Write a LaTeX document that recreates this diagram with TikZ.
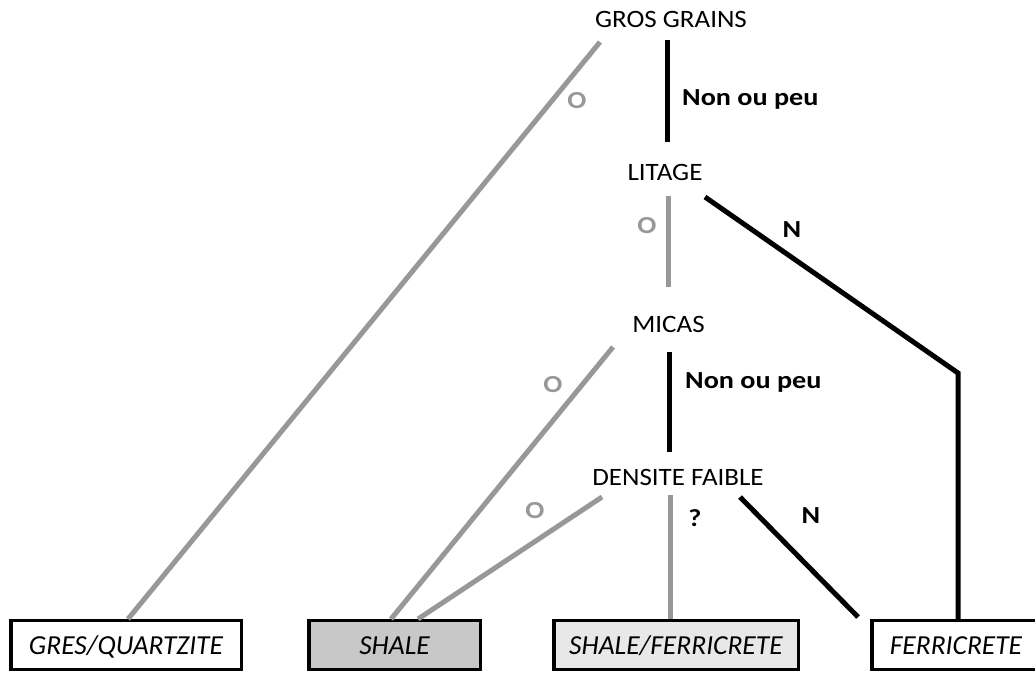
\documentclass[tikz,border=0pt]{standalone}
\usepackage{fontspec}
\setmainfont{Carlito}
\newfontfamily\qfamily{Carlito}[FakeStretch=1.08]
\newfontfamily\lfamily{Carlito}[FakeStretch=1.15]
\begin{document}
\begin{tikzpicture}[x=1pt,y=-1pt,
  q/.style={font=\qfamily\fontsize{25}{28}\selectfont, inner sep=0pt, anchor=base},
  lab/.style={font=\lfamily\bfseries\fontsize{24.5}{28}\selectfont, inner sep=0pt, anchor=base},
  glab/.style={lab, text=grayline},
  yes/.style={line width=5pt, draw=grayline},
  no/.style={line width=5pt, draw=black},
  res/.style={draw=black, line width=3.5pt, inner sep=0pt, minimum height=48.75pt,
    font=\fontsize{27.5}{30}\selectfont\itshape, text height=18pt, text depth=0pt}
]
\definecolor{grayline}{HTML}{989898}
\definecolor{shalefill}{HTML}{C8C8C8}
\definecolor{sfill}{HTML}{E8E8E8}
\clip (0,0) rectangle (1035,672);
\fill[white] (0,0) rectangle (1035,672);

% questions
\node[q] (gros) at (671,27) {GROS GRAINS};
\node[q] (litage) at (665,180) {LITAGE};
\node[q] (micas) at (668.5,332) {MICAS};
\node[q] (dens) at (678,485) {DENSITE FAIBLE};

% result boxes
\node[res, minimum width=230.5pt, fill=white] (gres) at (126,645) {GRES/QUARTZITE};
\node[res, minimum width=171.5pt, fill=shalefill] (shale) at (394.5,645) {SHALE};
\node[res, minimum width=244.5pt, fill=sfill] (sf) at (676,645) {SHALE/FERRICRETE};
\node[res, minimum width=168.5pt, fill=white] (fer) at (956,645) {FERRICRETE};

% connector end points
\coordinate (g1) at (667,40);
\coordinate (l0) at (667,142);
\coordinate (g2) at (600,42);
\coordinate (gresTop) at (128,619);
\coordinate (l1) at (668,196);
\coordinate (m0) at (668,287);
\coordinate (l2) at (705,197);
\coordinate (bend) at (958,373);
\coordinate (ferTop) at (958,619);
\coordinate (m1) at (613,347);
\coordinate (shTop1) at (391,619);
\coordinate (m2) at (669,352);
\coordinate (d0) at (669,452);
\coordinate (d1) at (602,497);
\coordinate (shTop2) at (418,619);
\coordinate (d2) at (670,495);
\coordinate (sfTop) at (670,619);
\coordinate (d3) at (740,497);
\coordinate (ferTop2) at (858,617);

% connectors
\draw[no] (g1) -- (l0);
\draw[yes] (g2) -- (gresTop);
\draw[yes] (l1) -- (m0);
\draw[no, line join=miter] (l2) -- (bend) -- (ferTop);
\draw[yes] (m1) -- (shTop1);
\draw[no] (m2) -- (d0);
\draw[yes] (d1) -- (shTop2);
\draw[yes] (d2) -- (sfTop);
\draw[no] (d3) -- (ferTop2);

% labels
\node[lab, anchor=base west] (l_np1) at (682,105) {Non ou peu};
\node[glab] (l_o1) at (577,108) {O};
\node[glab] (l_o2) at (647,233) {O};
\node[lab] (l_n1) at (792,237) {N};
\node[glab] (l_o3) at (553,392) {O};
\node[lab, anchor=base west] (l_np2) at (685,388) {Non ou peu};
\node[glab] (l_o4) at (535,518) {O};
\node[lab] (l_q) at (695,526) {?};
\node[lab] (l_n2) at (811,523) {N};
\end{tikzpicture}
\end{document}
